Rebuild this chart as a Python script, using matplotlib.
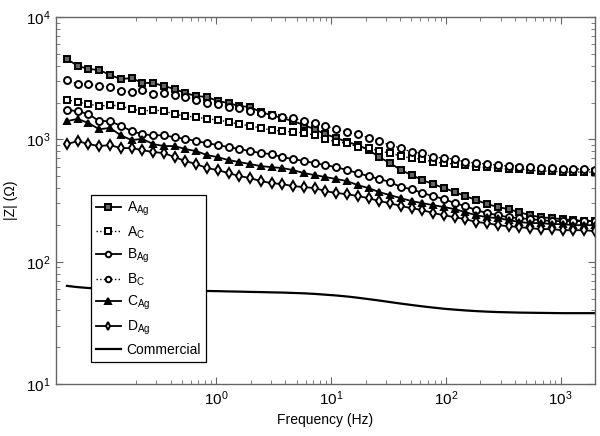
import matplotlib
matplotlib.use("Agg")
import matplotlib.pyplot as plt
from matplotlib.ticker import FixedLocator, NullFormatter, LogFormatterMathtext

plt.rcParams['font.family'] = ['Liberation Sans', 'DejaVu Sans']
plt.rcParams['mathtext.fontset'] = 'custom'
plt.rcParams['mathtext.rm'] = 'Liberation Sans'
plt.rcParams['mathtext.it'] = 'Liberation Sans:italic'
plt.rcParams['mathtext.bf'] = 'Liberation Sans:bold'

# frequency sweep (Hz)
freq = [0.05, 0.0621, 0.0770, 0.0956, 0.119, 0.147, 0.183, 0.227, 0.282, 0.350,
        0.434, 0.539, 0.669, 0.830, 1.03, 1.28, 1.59, 1.97, 2.44, 3.03,
        3.76, 4.67, 5.80, 7.20, 8.93, 11.1, 13.8, 17.1, 21.2, 26.3,
        32.7, 40.6, 50.4, 62.5, 77.6, 96.3, 120, 148, 184, 229,
        284, 352, 437, 542, 673, 835, 1040, 1290, 1600, 2000]

# |Z| (ohm)
A_Ag = [4540, 3980, 3760, 3690, 3360, 3110, 3170, 2890, 2890, 2730,
        2580, 2390, 2260, 2220, 2060, 1980, 1870, 1840, 1670, 1580,
        1490, 1410, 1310, 1210, 1100, 1030, 950, 900, 820, 716,
        640, 561, 511, 465, 431, 400, 371, 344, 319, 296,
        280, 269, 254, 240, 231, 227, 223, 219, 215, 215]
A_C = [2100, 2020, 1940, 1870, 1910, 1870, 1770, 1700, 1740, 1700,
       1610, 1550, 1520, 1470, 1440, 1390, 1330, 1290, 1240, 1190,
       1170, 1150, 1130, 1080, 1010, 950, 933, 865, 849, 802,
       773, 730, 703, 690, 652, 640, 628, 616, 593, 593,
       583, 572, 572, 561, 550, 550, 540, 540, 540, 540]
B_Ag = [1740, 1700, 1610, 1410, 1410, 1290, 1170, 1100, 1080, 1080,
        1040, 1010, 968, 933, 898, 865, 833, 802, 773, 758,
        716, 690, 665, 640, 616, 593, 561, 530, 501, 474,
        448, 407, 392, 364, 344, 325, 301, 285, 264, 250,
        240, 231, 227, 223, 219, 215, 215, 215, 215, 215]
B_C = [3050, 2830, 2830, 2730, 2680, 2480, 2440, 2530, 2350, 2390,
       2300, 2220, 2100, 1980, 1940, 1840, 1800, 1700, 1640, 1580,
       1520, 1490, 1410, 1360, 1290, 1210, 1150, 1100, 1030, 968,
       898, 849, 787, 773, 716, 703, 690, 652, 640, 628,
       616, 605, 593, 593, 583, 583, 572, 572, 572, 561]
C_Ag = [1410, 1470, 1360, 1210, 1240, 1080, 987, 1010, 915, 882,
        882, 833, 802, 744, 716, 677, 652, 628, 605, 593,
        583, 561, 530, 511, 492, 474, 456, 423, 400, 371,
        350, 331, 313, 301, 290, 280, 269, 254, 240, 231,
        227, 219, 211, 207, 207, 203, 203, 199, 199, 199]
D_Ag = [915, 968, 915, 882, 898, 849, 849, 817, 787, 773,
        716, 665, 628, 583, 561, 530, 501, 483, 456, 439,
        431, 415, 407, 400, 378, 364, 357, 344, 331, 313,
        301, 285, 274, 264, 250, 240, 231, 223, 211, 207,
        199, 195, 192, 188, 185, 185, 181, 181, 181, 178]
Commercial = [63.5, 62, 61, 60.5, 60, 59.8, 59.5, 59.2, 59, 58.7,
              58.5, 58.2, 58, 57.7, 57.5, 57.2, 57, 56.7, 56.5, 56.2,
              56, 55.6, 55.2, 54.6, 53.8, 53, 52, 50.8, 49.5, 48.2,
              46.8, 45.5, 44.3, 43.2, 42.2, 41.3, 40.6, 40, 39.5, 39.1,
              38.8, 38.6, 38.4, 38.3, 38.2, 38.1, 38.0, 38.0, 38.0, 38.0]

x_major = [1, 10, 100, 1000]
x_minor = [m * 10.0 ** e for e in range(-1, 4) for m in range(2, 10)
           if m * 10.0 ** e < 2000]

fig = plt.figure(figsize=(6, 4.36), dpi=100)
ax = fig.add_axes([0.093, 0.119, 0.899, 0.842])

ms = 5
mew = 1.4
ax.plot(freq, A_Ag, '-s', color='black', lw=1.3, ms=ms, mew=mew, mfc='0.4',
        label=r'A$_\mathregular{Ag}$')
ax.plot(freq, A_C, ':s', color='black', lw=1.0, ms=ms, mew=mew, mfc='white',
        label=r'A$_\mathregular{C}$')
ax.plot(freq, B_Ag, '-o', color='black', lw=1.3, ms=ms, mew=mew, mfc='white',
        label=r'B$_\mathregular{Ag}$')
ax.plot(freq, B_C, ':o', color='black', lw=1.0, ms=ms, mew=mew, mfc='white',
        label=r'B$_\mathregular{C}$')
ax.plot(freq, C_Ag, '-^', color='black', lw=1.3, ms=ms, mew=mew, mfc='black',
        label=r'C$_\mathregular{Ag}$')
ax.plot(freq, D_Ag, '-d', color='black', lw=1.3, ms=ms, mew=mew, mfc='white',
        label=r'D$_\mathregular{Ag}$')
ax.plot(freq, Commercial, '-', color='black', lw=1.6, label='Commercial')

ax.set_xscale('log')
ax.set_yscale('log')
ax.set_xlim(0.04, 2000)
ax.set_ylim(10, 10000)

ax.xaxis.set_major_locator(FixedLocator(x_major))
ax.xaxis.set_minor_locator(FixedLocator(x_minor))
ax.xaxis.set_major_formatter(LogFormatterMathtext())
ax.xaxis.set_minor_formatter(NullFormatter())
ax.yaxis.set_minor_formatter(NullFormatter())

ax.tick_params(which='both', direction='in', top=True, right=True,
               color='0.4', labelsize=11, labelcolor='black')
ax.tick_params(which='major', length=5, width=0.8)
ax.tick_params(which='minor', length=3, width=0.6)
for sp in ax.spines.values():
    sp.set_color('0.4')
    sp.set_linewidth(1.0)

ax.set_xlabel('Frequency (Hz)', fontsize=10)
ax.set_ylabel('|Z| (Ω)', fontsize=10, labelpad=6)

leg = ax.legend(loc='lower left', bbox_to_anchor=(0.0655, 0.06), borderaxespad=0,
                frameon=True, fancybox=False, edgecolor='black', framealpha=1,
                fontsize=10, numpoints=1, markerscale=0.8, handlelength=1.8,
                handletextpad=0.4, labelspacing=0.45, borderpad=0.35)
leg.get_frame().set_linewidth(0.9)

fig.savefig('out.png', dpi=100)
